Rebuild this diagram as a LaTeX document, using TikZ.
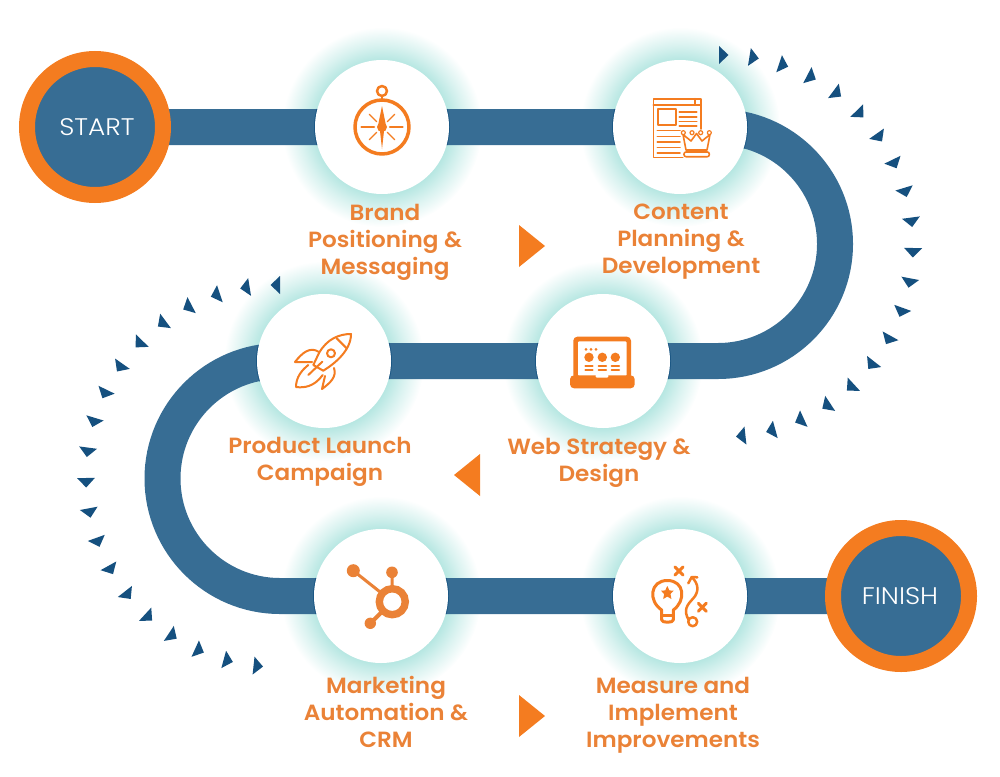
\documentclass[tikz,border=0pt]{standalone}
\usepackage{fontspec}
\setmainfont{Poppins}
\newfontfamily\thinfont[FakeStretch=1.1]{Poppins Light}
\newfontfamily\labelfont[FakeStretch=1.05]{Poppins SemiBold}
\usetikzlibrary{shapes,backgrounds}
\definecolor{trackblue}{HTML}{376D94}
\definecolor{edgeblue}{HTML}{1B5784}
\definecolor{tipblue}{HTML}{15507F}
\definecolor{ringorange}{HTML}{F47C20}
\definecolor{textorange}{HTML}{EA8237}
\definecolor{glowteal}{HTML}{B4E6E1}
\pgfdeclareradialshading{glowring}{\pgfpointorigin}{color(0bp)=(glowteal); color(16.5bp)=(glowteal); color(20.5bp)=(glowteal!50!white); color(25bp)=(white); color(50bp)=(white)}
\tikzset{
  stepcircle/.style={circle, fill=white, inner sep=0pt, minimum size=134pt},
  endcircle/.style={circle, draw=ringorange, fill=trackblue, line width=16pt, inner sep=0pt, minimum size=136pt, text=white, font=\fontsize{24}{28}\selectfont\thinfont},
  steplabel/.style={align=center, text=textorange, inner sep=0pt, font=\fontsize{22}{27}\selectfont\labelfont},
  track/.style={draw=trackblue, line width=36pt},
  bigtip/.style={fill=ringorange},
  smalltip/.style={fill=tipblue},
  iconline/.style={draw=ringorange, line width=2pt, line cap=round, line join=round},
  iconfill/.style={fill=ringorange}
}
\begin{document}
\begin{tikzpicture}[x=1pt,y=-1pt]
  \useasboundingbox (0,0) rectangle (1000,776);
  \node (start) [endcircle] at (95,127) {\hspace*{4pt}START};
  \node (finish) [endcircle] at (901,596) {FINISH\hspace*{2pt}};
  \node (brand) [stepcircle] at (382,127) {};
  \node (content) [stepcircle] at (680,127) {};
  \node (web) [stepcircle] at (603,361) {};
  \node (launch) [stepcircle] at (324,361) {};
  \node (crm) [stepcircle] at (381,596) {};
  \node (measure) [stepcircle] at (680,596) {};
  \coordinate (righttop) at (718,127);
  \coordinate (rightbottom) at (718,361);
  \coordinate (lefttop) at (280,361);
  \coordinate (leftbottom) at (280,596);

  \begin{pgfonlayer}{background}
    \foreach \n in {brand,content,web,launch,crm,measure}
      \shade [shading=glowring] (\n) circle (100);
    \draw [track] (start.center) -- (content.center) -- (righttop) arc [start angle=-90, end angle=90, radius=117] -- (rightbottom) -- (lefttop) arc [start angle=-90, end angle=-270, radius=117.5] -- (leftbottom) -- (finish.center);
    \foreach \n/\a in {brand/0,brand/180,content/180,content/3,web/0,web/180,launch/0,launch/178,crm/0,crm/180,measure/0,measure/180}
      \draw [edgeblue, line width=1pt] (\n) ++(\a-15.5:67.5) arc [start angle=\a-15.5, end angle=\a+15.5, radius=67.5];
  \end{pgfonlayer}

  \foreach \i in {0,...,19} {
    \pgfmathsetmacro{\a}{90-9.15*\i}
    \fill [smalltip, shift={(722,246)}, rotate=\a] (182,-3) -- (200,-3) -- (191,6.5) -- cycle;
    \pgfmathsetmacro{\b}{90+9.15*\i}
    \fill [smalltip, shift={(277,476)}, rotate=\b] (182,3) -- (200,3) -- (191,-6.5) -- cycle;
  }

  \fill [bigtip] (519,225) -- (519,267) -- (545,246) -- cycle;
  \fill [bigtip] (480,454) -- (480,496) -- (454,475) -- cycle;
  \fill [bigtip] (519,695) -- (519,737) -- (545,716) -- cycle;

  \node (brandlabel) [steplabel] at (385,242) {Brand\\Positioning \&\\Messaging};
  \node (contentlabel) [steplabel] at (681,242) {Content\\Planning \&\\Development};
  \node (weblabel) [steplabel] at (599,463) {Web Strategy \&\\Design};
  \node (launchlabel) [steplabel] at (320,461.5) {Product Launch\\Campaign};
  \node (crmlabel) [steplabel] at (386,712) {Marketing\\Automation \&\\CRM};
  \node (measurelabel) [steplabel] at (673,715.5) {Measure and\\Implement\\Improvements};

  \begin{scope}[shift={(brand.center)}]
    \draw [iconline, line width=3.5pt] (0,0) circle (27);
    \draw [iconline, line width=2.5pt] (0,-36) circle (5);
    \draw [iconline, line width=2.5pt] (0,-31) -- (0,-28);
    \fill [iconfill] (0,0) circle (5);
    \fill [iconfill] (-3.5,-4) -- (0,-21) -- (3.5,-4) -- cycle;
    \fill [iconfill] (-2,4) -- (0,22) -- (2,4) -- cycle;
    \draw [iconline, line width=2.5pt] (-20.5,0) -- (-8,0);
    \draw [iconline, line width=2.5pt] (8,0) -- (20.5,0);
    \foreach \a in {45,135,225,315}
      \draw [iconline, line width=1.2pt] (\a:7.5) -- (\a:18);
  \end{scope}

  \begin{scope}[shift={(content.center)}]
    \draw [iconline, line width=1.6pt] (2.7,30.3) -- (-26.7,30.3) -- (-26.7,-28.3) -- (20.7,-28.3) -- (20.7,2);
    \draw [iconline, line width=1.6pt] (-26.7,-22) -- (20.7,-22);
    \draw [iconline, line width=1.6pt] (14.7,-28.3) -- (14.7,-22);
    \draw [iconline] (-21.7,-17.7) rectangle (-4,-2);
    \foreach \y in {-15.3,-10.3,-5.7,-1}
      \draw [iconline, line width=1.6pt] (-0.7,\y) -- (16.7,\y);
    \foreach \y in {3.5,9.5,15,20.5,26}
      \draw [iconline, line width=1.6pt] (-22.7,\y) -- (0,\y);
    \draw [iconline, line width=1.6pt] (6,23) -- (3,7.5) -- (11,14) -- (16.5,6.5) -- (22,14) -- (30,7.5) -- (27,23) -- cycle;
    \foreach \x in {3.3,12,20.7,29.3}
      \draw [iconline, line width=1.2pt, fill=white] (\x,5.7) circle (2);
    \draw [iconline, line width=1.6pt, rounded corners=2pt] (4,25) rectangle (29.3,29.7);
  \end{scope}

  \begin{scope}[shift={(web.center)}]
    \fill [iconfill, rounded corners=4pt] (-29.7,-24.3) rectangle (28,18);
    \fill [white, rounded corners=1pt] (-25,-19.7) rectangle (23.5,15);
    \fill [iconfill, rounded corners=4pt] (-33,14.3) -- (-33,27.3) -- (31.7,27.3) -- (31.7,14.3) -- cycle;
    \fill [white, rounded corners=1pt] (-7.3,13.5) rectangle (5.3,16.5);
    \foreach \x in {-17,-12,-7}
      \fill [iconfill] (\x,-11.7) circle (1.5);
    \foreach \x in {-14,-0.7,12.3} {
      \fill [iconfill] (\x,-3.7) circle (4.7);
      \draw [iconline] (\x-3.7,4.7) -- (\x+3.7,4.7);
      \draw [iconline] (\x-3.7,9) -- (\x+3.7,9);
    }
  \end{scope}

  \begin{scope}[shift={(launch.center)}]
    \draw [iconline] (27,-27) .. controls (15,-27) and (3,-22) .. (-5,-8) -- (-10.7,4) -- (-0.7,9.7) .. controls (10,3) and (27,-10) .. cycle;
    \draw [iconline] (12.7,-22.7) -- (22.7,-12.7);
    \draw [iconline] (7,-7.7) circle (4);
    \draw [iconline] (-5,-9) .. controls (-14,-15) and (-22,-8) .. (-29,1) -- (-12,1);
    \draw [iconline] (10,7) .. controls (13,16) and (6,22) .. (-2,28) -- (1,15);
    \draw [iconline] (-15.7,4) .. controls (-22,9) and (-28,16) .. (-28,26) .. controls (-20,27) and (-10,26) .. (-1.3,14);
    \draw [iconline] (-15.7,14) -- (-1.7,0.7);
  \end{scope}

  \begin{scope}[shift={(crm.center)}, textorange]
    \draw [line width=3pt] (-27.7,-25.3) -- (11.3,5.7);
    \draw [line width=3pt] (11,-23.7) -- (11.3,5.7);
    \draw [line width=4pt] (-10.7,27.3) -- (11.3,5.7);
    \fill (-27.7,-25.3) circle (6.5);
    \fill (11,-23.7) circle (5.8);
    \fill (-10.7,27.3) circle (5.7);
    \draw [line width=7.4pt, fill=white] (11.3,5.7) circle (13);
  \end{scope}

  \begin{scope}[shift={(measure.center)}]
    \draw [iconline, line width=3pt] (-18.3,14) .. controls (-32,5) and (-30,-15.5) .. (-12.7,-15.5) .. controls (5,-15.5) and (6,5) .. (-6.7,14) -- (-6.7,24) .. controls (-6.7,27) and (-18.3,27) .. (-18.3,24) -- cycle;
    \draw [iconline, line width=2.5pt] (-18.3,19.5) -- (-6.7,19.5);
    \fill [iconfill] (-12.7,-10) -- (-10.6,-5.6) -- (-6.4,-5.3) -- (-9.5,-2) -- (-8.6,3) -- (-12.7,0.6) -- (-16.8,3) -- (-15.9,-2) -- (-19,-5.3) -- (-14.8,-5.6) -- cycle;
    \draw [iconline, line width=3pt] (-5,-29) -- (3,-21);
    \draw [iconline, line width=3pt] (3,-29) -- (-5,-21);
    \draw [iconline, line width=3pt] (18.3,7.3) -- (26.3,15.3);
    \draw [iconline, line width=3pt] (26.3,7.3) -- (18.3,15.3);
    \draw [iconline, line width=2.5pt] (12.7,25.7) circle (4.5);
    \draw [iconline, line width=2.5pt] (8.7,24) .. controls (3,14) and (7,9) .. (13.3,2.3) .. controls (19,-4) and (19,-12) .. (11.7,-19);
    \draw [iconline, line width=2.5pt] (8.3,-12.7) -- (11.7,-19) -- (17.3,-18.7);
  \end{scope}
\end{tikzpicture}
\end{document}
